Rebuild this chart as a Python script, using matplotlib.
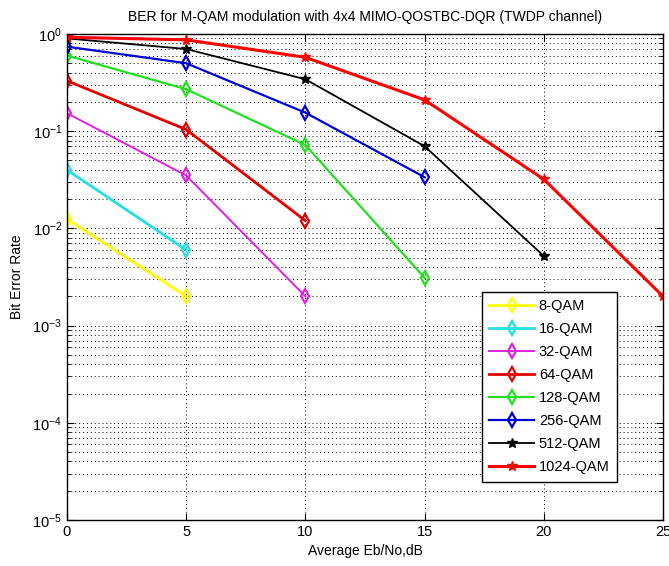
import numpy as np
import matplotlib.pyplot as plt
from matplotlib.ticker import LogLocator, FixedLocator

plt.rcParams['font.family'] = ['Liberation Sans', 'DejaVu Sans']

# Eb/No points (dB)
snr = [0, 5, 10, 15, 20, 25]

ber_8 = [0.0125, 0.002]
ber_16 = [0.040, 0.006]
ber_32 = [0.153, 0.035, 0.002]
ber_64 = [0.33, 0.104, 0.012]
ber_128 = [0.60, 0.27, 0.072, 0.0031]
ber_256 = [0.74, 0.50, 0.155, 0.0336]
ber_512 = [0.90, 0.70, 0.342, 0.070, 0.0052]
ber_1024 = [0.925, 0.87, 0.575, 0.21, 0.032, 0.002]

labels = ['8-QAM', '16-QAM', '32-QAM', '64-QAM', '128-QAM', '256-QAM',
          '512-QAM', '1024-QAM']
curves = [ber_8, ber_16, ber_32, ber_64, ber_128, ber_256, ber_512, ber_1024]
colors = ['#ffff00', '#22e0e0', '#e020e0', '#e00000', '#20e020', '#0000d0',
          '#000000', '#ff0000']
markers = ['d', 'd', 'd', 'd', 'd', 'd', '*', '*']
widths = [2.0, 2.0, 1.4, 2.0, 1.6, 1.6, 1.3, 2.2]

fig = plt.figure(figsize=(6.69, 5.66), dpi=100)
ax = fig.add_axes([0.1001, 0.0813, 0.8909, 0.8587])

for y, lab, c, m, w in zip(curves, labels, colors, markers, widths):
    x = snr[:len(y)]
    if m == 'd':
        ax.semilogy(x, y, color=c, marker=m, markersize=7.5, markerfacecolor='none',
                    markeredgewidth=1.6, linewidth=w, label=lab)
    else:
        ax.semilogy(x, y, color=c, marker=m, markersize=7.5, markerfacecolor=c,
                    markeredgewidth=1.0, linewidth=w, label=lab)

ax.set_xlim(0, 25)
ax.set_ylim(1e-5, 1)
ax.xaxis.set_major_locator(FixedLocator(snr))
ax.yaxis.set_major_locator(LogLocator(base=10, numticks=10))
ax.yaxis.set_minor_locator(LogLocator(base=10, subs=np.arange(2, 10), numticks=10))
ax.tick_params(which='both', direction='in', top=True, right=True, labelsize=10.5)
ax.tick_params(which='major', length=5)
ax.tick_params(which='minor', length=3, labelleft=False)
ax.grid(True, which='major', axis='x', linestyle=(0, (1, 3)), color='black', linewidth=0.7)
ax.grid(True, which='both', axis='y', linestyle=(0, (1, 3)), color='black', linewidth=0.7)
for s in ax.spines.values():
    s.set_linewidth(1.0)

ax.set_title('BER for M-QAM modulation with 4x4 MIMO-QOSTBC-DQR (TWDP channel)',
             fontsize=10, pad=9)
ax.set_xlabel('Average Eb/No,dB', fontsize=10, labelpad=4)
ax.set_ylabel('Bit Error Rate', fontsize=10, labelpad=6)

leg = ax.legend(loc='lower right', bbox_to_anchor=(0.935, 0.064), fontsize=10.5,
                fancybox=False, edgecolor='black', framealpha=1, handlelength=3.1,
                labelspacing=0.62, borderpad=0.5, handletextpad=0.3)
leg.get_frame().set_linewidth(1.0)

fig.savefig('out.png', dpi=100)
